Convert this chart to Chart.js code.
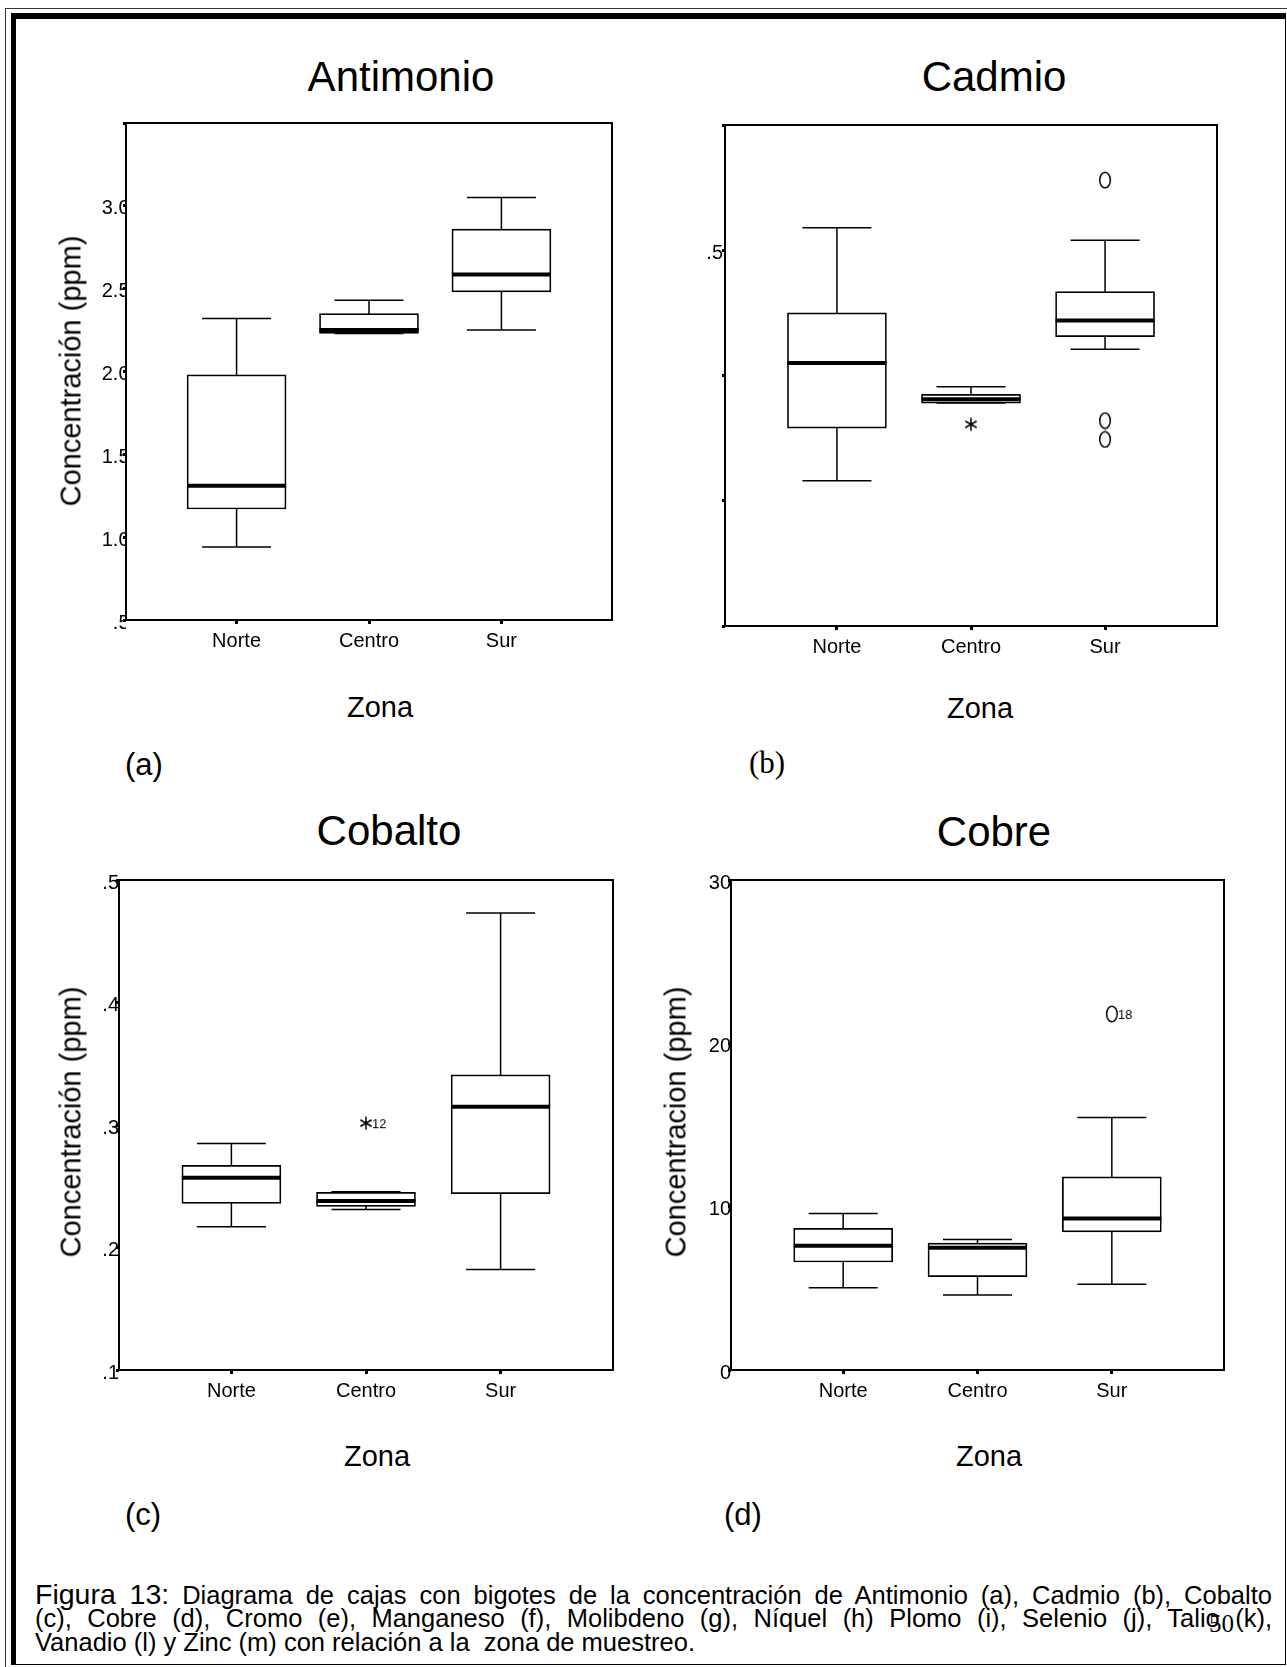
<!DOCTYPE html>
<html>
<head>
<meta charset="utf-8">
<script src="https://cdn.jsdelivr.net/npm/chart.js@4.4.1/dist/chart.umd.min.js"></script>
<style>
  body { margin: 0; background: #fff; }
  #page { position: relative; width: 1287px; height: 1667px; overflow: hidden; background: #fff;
          font-family: "Liberation Sans", Arial, sans-serif; color: #000; }
  .t { position: absolute; white-space: nowrap; }
  canvas { position: absolute; }
  .cl { position: absolute; left: 35px; width: 1237px; font-size: 25.5px; line-height: 26px; white-space: nowrap; }
  .j { text-align: justify; text-align-last: justify; white-space: normal; }
  .big { font-size: 28.5px; }
</style>
</head>
<body>
<div id="page">
  <div style="position:absolute;left:5px;top:8px;width:1282px;height:1659px;border-left:1px solid #333;border-top:1px solid #333;"></div>
  <div style="position:absolute;left:11px;top:13px;width:1275px;height:1652px;box-sizing:border-box;border-left:5px solid #000;border-top:6px solid #000;border-right:1px solid #000;border-bottom:1px solid #000;"></div>

  <div class="cl j" style="top:1581px;"><span class="big">Figura 13:</span> Diagrama de cajas con bigotes de la concentración de Antimonio (a), Cadmio (b), Cobalto</div>
  <div class="cl j" style="top:1605px;">(c), Cobre (d), Cromo (e), Manganeso (f), Molibdeno (g), Níquel (h) Plomo (i), Selenio (j), Talio (k),</div>
  <div class="cl" style="top:1629px;">Vanadio (l) y Zinc (m) con relación a la&nbsp; zona de muestreo.</div>
</div>

<script>
const zonas = ['Norte', 'Centro', 'Sur'];

// (a) Antimonio
const sbMin = [0.94, 2.23, 2.25];
const sbQ1  = [1.17, 2.23, 2.48];
const sbMed = [1.31, 2.25, 2.585];
const sbQ3  = [1.98, 2.35, 2.86];
const sbMax = [2.32, 2.43, 3.05];
const sbTickVals = [0.5, 1, 1.5, 2, 2.5, 3, 3.5];
const sbTickLbls = ['.5', '1.0', '1.5', '2.0', '2.5', '3.0', ''];

// (b) Cadmio
const cdMin = [0.316, 0.378, 0.421];
const cdQ1  = [0.358, 0.378, 0.431];
const cdMed = [0.410, 0.381, 0.444];
const cdQ3  = [0.450, 0.385, 0.467];
const cdMax = [0.518, 0.391, 0.508];
const cdOutZona = ['Centro', 'Sur', 'Sur', 'Sur'];
const cdOutVal  = [0.361, 0.556, 0.364, 0.349];
const cdOutTipo = ['*', 'o', 'o', 'o'];
const cdOutEtq  = ['', '', '', ''];
const cdTickVals = [0.2, 0.3, 0.4, 0.5, 0.6];
const cdTickLbls = ['', '', '', '.5', ''];

// (c) Cobalto
const coMin = [0.217, 0.231, 0.182];
const coQ1  = [0.236, 0.2335, 0.244];
const coMed = [0.257, 0.238, 0.315];
const coQ3  = [0.267, 0.245, 0.341];
const coMax = [0.285, 0.2455, 0.473];
const coOutZona = ['Centro'];
const coOutVal  = [0.3015];
const coOutTipo = ['*'];
const coOutEtq  = ['12'];
const coTickVals = [0.1, 0.2, 0.3, 0.4, 0.5];
const coTickLbls = ['.1', '.2', '.3', '.4', '.5'];

// (d) Cobre
const cuMin = [5.03, 4.59, 5.25];
const cuQ1  = [6.61, 5.71, 8.45];
const cuMed = [7.60, 7.49, 9.27];
const cuQ3  = [8.67, 7.77, 11.82];
const cuMax = [9.58, 7.99, 15.46];
const cuOutZona = ['Sur'];
const cuOutVal  = [21.8];
const cuOutTipo = ['o'];
const cuOutEtq  = ['18'];
const cuTickVals = [0, 10, 20, 30];
const cuTickLbls = ['0', '10', '20', '30'];

const FONT = '"Liberation Sans", Arial, sans-serif';
const page = document.getElementById('page');

// plain text on the page, placed by baseline
function txt(s, x, base, size, opt = {}) {
  const d = document.createElement('div');
  d.className = 't';
  d.textContent = s;
  d.style.fontSize = size + 'px';
  d.style.lineHeight = size + 'px';
  if (opt.serif) d.style.fontFamily = '"Liberation Serif", "Times New Roman", serif';
  d.style.left = x + 'px';
  if (opt.rot) {
    d.style.top = base + 'px';
    d.style.transform = 'translate(-50%,-50%) rotate(-90deg)';
  } else {
    d.style.top = (base - (opt.serif ? 0.8375 : 0.8465) * size) + 'px';
    if (opt.center) d.style.transform = 'translateX(-50%)';
  }
  page.appendChild(d);
}

// outlier symbol (SPSS style "O" or "*"), label to the right
function glyph(tipo, etq) {
  const c = document.createElement('canvas');
  let g = c.getContext('2d');
  g.font = '13px ' + FONT;
  const lw = etq ? Math.ceil(g.measureText(etq).width) + 7 : 0;
  c.width = 18 + 2 * lw;
  c.height = 18;
  g = c.getContext('2d');
  const cx = c.width / 2, cy = 9;
  g.strokeStyle = '#000';
  g.lineWidth = 1.5;
  g.beginPath();
  if (tipo === 'o') {
    g.ellipse(cx, cy, 5.3, 7.8, 0, 0, Math.PI * 2);
  } else {
    [90, 30, -30].forEach(a => {
      const r = a * Math.PI / 180;
      g.moveTo(cx - 6.5 * Math.cos(r), cy - 6.5 * Math.sin(r));
      g.lineTo(cx + 6.5 * Math.cos(r), cy + 6.5 * Math.sin(r));
    });
  }
  g.stroke();
  if (etq) {
    g.font = '13px ' + FONT;
    g.fillStyle = '#000';
    g.textBaseline = 'middle';
    g.fillText(etq, cx + 6, cy + 1);
  }
  return c;
}

// white plot area over the tick labels, then the frame
const marco = {
  id: 'marco',
  beforeDatasetsDraw(chart) {
    const { ctx, chartArea: a } = chart;
    ctx.save();
    ctx.fillStyle = '#fff';
    ctx.fillRect(a.left, a.top, a.right - a.left, a.bottom - a.top);
    ctx.restore();
  },
  afterDatasetsDraw(chart) {
    const { ctx, chartArea: a } = chart;
    ctx.save();
    ctx.strokeStyle = '#000';
    ctx.lineWidth = 2;
    ctx.strokeRect(a.left, a.top, a.right - a.left, a.bottom - a.top);
    ctx.restore();
  }
};

function boxChart(geo, d) {
  const YW = 60, PT = 20, PR = 20, XH = 45;
  const cv = document.createElement('canvas');
  cv.width = geo.R - geo.L + YW + PR;
  cv.height = geo.B - geo.T + PT + XH;
  cv.style.left = (geo.L - YW) + 'px';
  cv.style.top = (geo.T - PT) + 'px';
  page.appendChild(cv);

  const whisk = [];
  zonas.forEach((z, i) => {
    whisk.push({ x: i, y: d.min[i] }, { x: i, y: d.max[i] }, { x: i + 0.5, y: null });
  });
  const caps = [];
  zonas.forEach((z, i) => { caps.push({ x: i, y: d.max[i] }, { x: i, y: d.min[i] }); });
  const outs = d.outZona.map((z, k) => ({ x: zonas.indexOf(z), y: d.outVal[k] }));
  const outImgs = d.outTipo.map((t, k) => glyph(t, d.outEtq[k]));

  const h = 1.835;
  new Chart(cv, {
    type: 'bar',
    data: {
      datasets: [
        { type: 'line', data: whisk, borderColor: '#000', borderWidth: 1.5, pointRadius: 0, spanGaps: false, order: 4 },
        { type: 'bar', data: zonas.map((z, i) => ({ x: i, y: [d.q1[i], d.q3[i]] })),
          backgroundColor: '#fff', borderColor: '#000', borderWidth: 1.7, borderSkipped: false,
          barThickness: 99, grouped: false, order: 3 },
        { type: 'line', data: caps, showLine: false, pointStyle: 'line', pointRadius: 34.5,
          borderColor: '#000', pointBorderColor: '#000', pointBorderWidth: 1.5, order: 2 },
        { type: 'line', data: zonas.map((z, i) => ({ x: i, y: d.med[i] })), showLine: false,
          pointStyle: 'line', pointRadius: 49.5, borderColor: '#000', pointBorderColor: '#000',
          pointBorderWidth: 4, order: 1 },
        { type: 'line', data: outs, showLine: false, pointStyle: outImgs, pointRadius: 9,
          borderColor: '#000', order: 0 }
      ]
    },
    options: {
      responsive: false,
      devicePixelRatio: 1,
      animation: false,
      events: [],
      layout: { autoPadding: false, padding: { top: PT, right: PR, left: 0, bottom: 0 } },
      plugins: { legend: { display: false }, tooltip: { enabled: false } },
      scales: {
        x: {
          type: 'linear', min: 1 - h, max: 1 + h, offset: false,
          afterBuildTicks: s => { s.ticks = zonas.map((z, i) => ({ value: i })); },
          afterFit: s => { s.height = XH; },
          ticks: { callback: (v, i) => zonas[i], autoSkip: false, maxRotation: 0,
                   font: { family: FONT, size: 20 }, color: '#000', padding: 5 },
          grid: { offset: false, drawOnChartArea: false, drawTicks: true, tickLength: 4, tickWidth: 3, tickColor: '#000' },
          border: { display: false }
        },
        y: {
          type: 'linear', min: d.tickVals[0], max: d.tickVals[d.tickVals.length - 1],
          afterBuildTicks: s => { s.ticks = d.tickVals.map(v => ({ value: v })); },
          afterFit: s => { s.width = YW; },
          ticks: { callback: (v, i) => d.tickLbls[i], autoSkip: false, labelOffset: 3,
                   font: { family: FONT, size: 20 }, color: '#000', padding: geo.lblPad },
          grid: { drawOnChartArea: false, drawTicks: true, tickLength: 3, tickWidth: 3, tickColor: '#000' },
          border: { display: false }
        }
      }
    },
    plugins: [marco]
  });
}

boxChart({ L: 126, T: 123, R: 612, B: 620, lblPad: -6.5 },
  { min: sbMin, q1: sbQ1, med: sbMed, q3: sbQ3, max: sbMax,
    outZona: [], outVal: [], outTipo: [], outEtq: [], tickVals: sbTickVals, tickLbls: sbTickLbls });
boxChart({ L: 725, T: 125, R: 1217, B: 626, lblPad: -1 },
  { min: cdMin, q1: cdQ1, med: cdMed, q3: cdQ3, max: cdMax,
    outZona: cdOutZona, outVal: cdOutVal, outTipo: cdOutTipo, outEtq: cdOutEtq, tickVals: cdTickVals, tickLbls: cdTickLbls });
boxChart({ L: 119, T: 880, R: 613, B: 1370, lblPad: -3 },
  { min: coMin, q1: coQ1, med: coMed, q3: coQ3, max: coMax,
    outZona: coOutZona, outVal: coOutVal, outTipo: coOutTipo, outEtq: coOutEtq, tickVals: coTickVals, tickLbls: coTickLbls });
boxChart({ L: 731, T: 880, R: 1224, B: 1370, lblPad: -3 },
  { min: cuMin, q1: cuQ1, med: cuMed, q3: cuQ3, max: cuMax,
    outZona: cuOutZona, outVal: cuOutVal, outTipo: cuOutTipo, outEtq: cuOutEtq, tickVals: cuTickVals, tickLbls: cuTickLbls });

// titles, axis titles, panel letters
txt('Antimonio', 401, 92, 42, { center: true });
txt('Cadmio', 994, 92, 42, { center: true });
txt('Cobalto', 389, 846, 42, { center: true });
txt('Cobre', 994, 847, 42, { center: true });
txt('Zona', 380, 718, 29, { center: true });
txt('Zona', 980, 719, 29, { center: true });
txt('Zona', 377, 1467, 29, { center: true });
txt('Zona', 989, 1467, 29, { center: true });
txt('Concentración (ppm)', 71, 371, 29, { rot: true });
txt('Concentración (ppm)', 71, 1122, 29, { rot: true });
txt('Concentracion (ppm)', 676, 1122, 29, { rot: true });
txt('(a)', 125, 775, 31);
txt('(b)', 749, 773, 31, { serif: true });
txt('(c)', 125, 1525, 31);
txt('(d)', 724, 1525, 31);
txt('50', 1209, 1632, 25, { serif: true });
</script>
</body>
</html>
